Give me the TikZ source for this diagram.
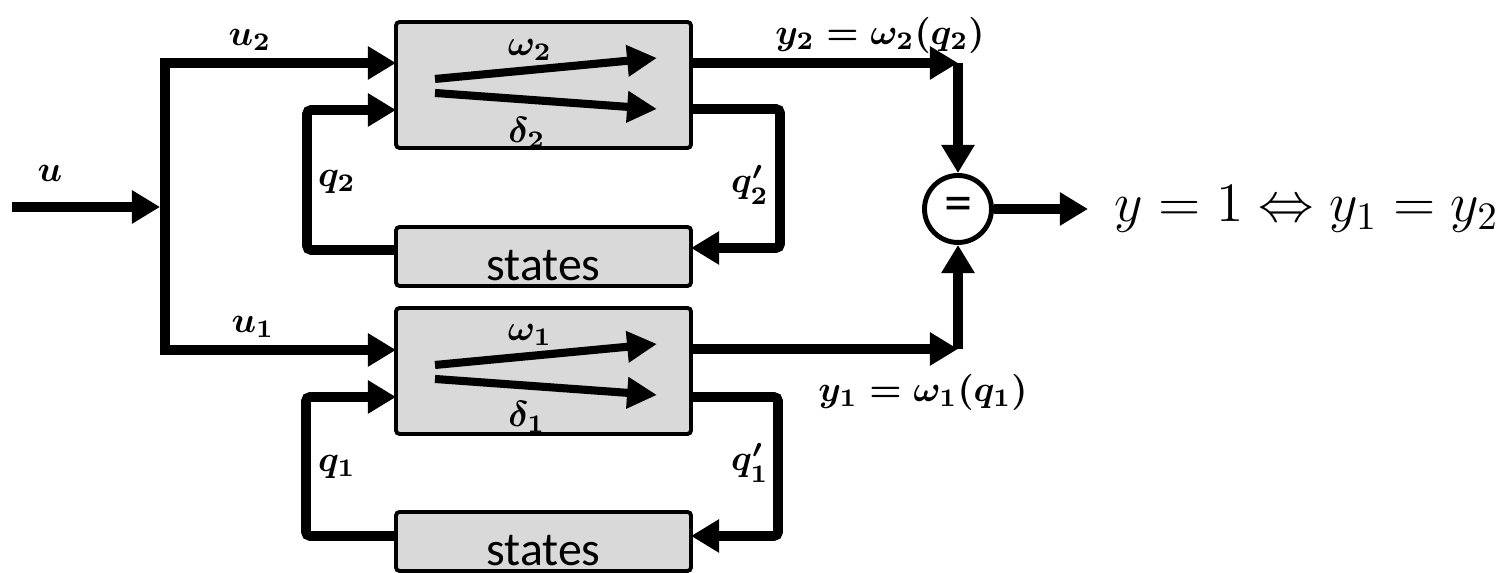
\documentclass[tikz,border=0pt]{standalone}
\usepackage{fix-cm}
\usepackage{fontspec}
\setsansfont{Carlito}
\usepackage{tikz}
\usetikzlibrary{arrows.meta,positioning,calc}
\definecolor{boxfill}{HTML}{D9D9D9}

\begin{document}
\begin{tikzpicture}[
  fbox/.style={draw, line width=1.1pt, fill=boxfill, rounded corners=1pt, minimum width=2.95cm, minimum height=1.26cm, inner sep=0pt, outer sep=0pt},
  stbox/.style={fbox, minimum height=0.59cm, text height=0.48cm, text depth=0pt, font=\sffamily\fontsize{13.6}{15}\selectfont},
  eqnode/.style={draw, circle, line width=1.4pt, minimum size=0.67cm, inner sep=0pt, font=\sffamily\fontsize{16}{18}\selectfont},
  lbl/.style={inner sep=0pt, font=\fontsize{10.3}{12}\selectfont\boldmath},
  res/.style={inner sep=0pt, inner xsep=0.26cm, font=\fontsize{15.8}{19}\selectfont},
  arr/.style={-{Triangle[length=8pt, width=9pt]}, line width=2.8pt},
  inarr/.style={-{Triangle[length=8.5pt, width=8.5pt]}, line width=2.3pt},
  fb/.style={arr, rounded corners=1.2pt}
]
  \useasboundingbox (0,0) rectangle (15.03,5.73);
  % blocks
  \node[fbox] (d2) at (5.435,4.88) {};
  \node[stbox, below=0.79cm of d2] (s2) {states};
  \node[fbox, below=0.22cm of s2] (d1) {};
  \node[stbox, below=0.78cm of d1] (s1) {states};
  \node[eqnode] (eq) at (9.58,3.64) {=};
  \node[res, anchor=west] (out) at (10.88,3.64) {$y = 1 \Leftrightarrow y_1 = y_2$};
  % free ends
  \coordinate (uin) at (0.12,3.66);
  \coordinate (sp) at (1.65,3.66);
  \coordinate (c2) at (9.58,5.10);
  \coordinate (c1) at (9.58,2.24);
  % input split
  \draw[arr] (uin) -- ([xshift=-1.4pt]sp);
  \draw[arr] (sp) |- ([yshift=0.22cm]d2.west);
  \draw[arr] (sp) |- ([yshift=0.21cm]d1.west);
  % state feedback
  \draw[fb] ([yshift=-0.24cm]d2.east) -- ++(0.89,0) |- ([yshift=0.085cm]s2.east);
  \draw[fb] ([yshift=0.065cm]s2.west) -- ++(-0.89,0) |- ([yshift=-0.25cm]d2.west);
  \draw[fb] ([yshift=-0.26cm]d1.east) -- ++(0.87,0) |- ([yshift=0.055cm]s1.east);
  \draw[fb] ([yshift=0.055cm]s1.west) -- ++(-0.90,0) |- ([yshift=-0.26cm]d1.west);
  % outputs
  \draw[arr] ([yshift=0.22cm]d2.east) -- (c2);
  \draw[arr] (c2) -- (eq);
  \draw[arr] ([yshift=0.22cm]d1.east) -- (c1);
  \draw[arr] (c1) -- (eq);
  \draw[arr] (eq) -- (out.west);
  % inside the blocks
  \draw[inarr] ([shift={(-1.085,0.06)}]d2.center) -- ([shift={(1.135,0.27)}]d2.center);
  \draw[inarr] ([shift={(-1.085,-0.08)}]d2.center) -- ([shift={(1.135,-0.24)}]d2.center);
  \draw[inarr] ([shift={(-1.085,0.06)}]d1.center) -- ([shift={(1.135,0.27)}]d1.center);
  \draw[inarr] ([shift={(-1.085,-0.08)}]d1.center) -- ([shift={(1.135,-0.24)}]d1.center);
  \node[lbl] (w2) at ([shift={(-0.135,0.35)}]d2.center) {$\omega_2$};
  \node[lbl] (dl2) at ([shift={(-0.165,-0.48)}]d2.center) {$\delta_2$};
  \node[lbl] (w1) at ([shift={(-0.135,0.36)}]d1.center) {$\omega_1$};
  \node[lbl] (dl1) at ([shift={(-0.165,-0.46)}]d1.center) {$\delta_1$};
  % labels
  \node[lbl] (lu) at (0.50,4.00) {$u$};
  \node[lbl] (lu2) at (2.50,5.33) {$u_2$};
  \node[lbl] (lu1) at (2.53,2.46) {$u_1$};
  \node[lbl] (lq2) at (3.37,3.91) {$q_2$};
  \node[lbl] (lq1) at (3.37,1.06) {$q_1$};
  \node[lbl] (lq2p) at (7.50,3.88) {$q_2'$};
  \node[lbl] (lq1p) at (7.50,1.10) {$q_1'$};
  \node[lbl] (ly2) at (8.80,5.38) {$y_2 = \omega_2(q_2)$};
  \node[lbl] (ly1) at (9.23,1.81) {$y_1 = \omega_1(q_1)$};
\end{tikzpicture}
\end{document}
